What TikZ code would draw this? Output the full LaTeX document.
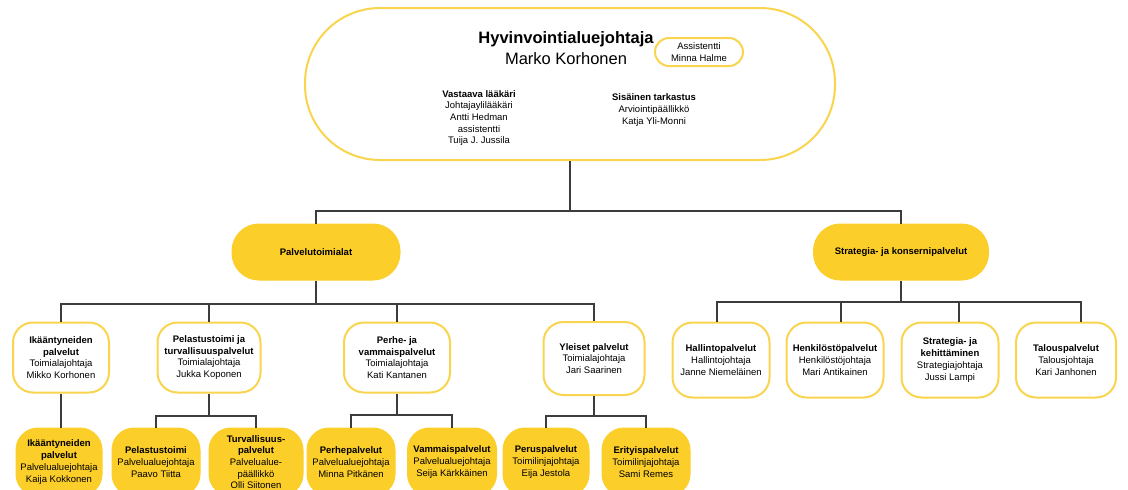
\documentclass[tikz,border=0pt]{standalone}
\usepackage{fontspec}
\setmainfont{Liberation Sans}
\definecolor{keltainen}{RGB}{252,206,42}
\definecolor{reuna}{RGB}{249,212,78}
\definecolor{viiva}{RGB}{60,60,60}
\newcommand{\pieni}{\fontsize{9.5}{11.7}\selectfont}

\begin{document}
\begin{tikzpicture}[x=1pt,y=-1pt]
        \useasboundingbox (0,0) rectangle (1128,490);
        % johtaja
        \begin{scope}[every node/.style={draw=reuna, line width=2pt, fill=white}]
            \node[minimum width=530pt, minimum height=152pt, rounded corners=75pt] (HJ) at (570,84) {};
            \node[minimum width=88pt, minimum height=28pt, rounded corners=14pt, align=center, font=\pieni] (AS) at (699,52) {Assistentti\\Minna Halme};
        \end{scope}
        \begin{scope}[every node/.style={align=center, font=\pieni}]
            \node[font=\bfseries\fontsize{16.5}{19}\selectfont] (HJt) at (566,39) {Hyvinvointialuejohtaja};
            \node[font=\fontsize{16.5}{19}\selectfont] (HJn) at (566,59) {Marko Korhonen};
            \node (VL) at (479,118) {\textbf{Vastaava lääkäri}\\Johtajaylilääkäri\\Antti Hedman\\assistentti\\Tuija J. Jussila};
            \node (SI) at (654,110) {\textbf{Sisäinen tarkastus}\\Arviointipäällikkö\\Katja Yli-Monni};
        \end{scope}
        % palvelutoimialat / konsernipalvelut
        \begin{scope}[every node/.style={fill=keltainen, draw=keltainen, line width=1pt, minimum height=56pt, rounded corners=27pt, font=\pieni\bfseries}]
            \node[minimum width=168pt] (PT) at (316,252) {Palvelutoimialat};
            \node[minimum width=175pt] (SK) at (901,252) {Strategia- ja konsernipalvelut};
        \end{scope}
        % toimialat
        \begin{scope}[every node/.style={draw=reuna, line width=2pt, fill=white, rounded corners=20pt, minimum height=70pt, align=center, font=\pieni}]
            \node[minimum width=96pt] (IK) at (61,357.5) {\textbf{Ikääntyneiden}\\\textbf{palvelut}\\Toimialajohtaja\\Mikko Korhonen};
            \node[minimum width=103pt] (PE) at (209,357.5) {\textbf{Pelastustoimi ja}\\\textbf{turvallisuuspalvelut}\\Toimialajohtaja\\Jukka Koponen};
            \node[minimum width=106pt] (PV) at (397,357.5) {\textbf{Perhe- ja}\\\textbf{vammaispalvelut}\\Toimialajohtaja\\Kati Kantanen};
            \node[minimum width=101pt, minimum height=73pt] (YL) at (594,358.5) {\textbf{Yleiset palvelut}\\Toimialajohtaja\\Jari Saarinen};
        \end{scope}
        \begin{scope}[every node/.style={draw=reuna, line width=2pt, fill=white, rounded corners=20pt, minimum height=75pt, align=center, font=\pieni}]
            \node[minimum width=97pt] (HA) at (721,360) {\textbf{Hallintopalvelut}\\Hallintojohtaja\\Janne Niemeläinen};
            \node[minimum width=97pt] (HE) at (835,360) {\textbf{Henkilöstöpalvelut}\\Henkilöstöjohtaja\\Mari Antikainen};
            \node[minimum width=97pt] (ST) at (950,360) {\textbf{Strategia- ja}\\\textbf{kehittäminen}\\Strategiajohtaja\\Jussi Lampi};
            \node[minimum width=100pt] (TA) at (1066,360) {\textbf{Talouspalvelut}\\Talousjohtaja\\Kari Janhonen};
        \end{scope}
        % palvelualueet
        \begin{scope}[every node/.style={fill=keltainen, draw=keltainen, line width=1pt, rounded corners=22pt, minimum height=68pt, align=center, font=\pieni}]
            \node[minimum width=86pt] (IKy) at (59,462) {\textbf{Ikääntyneiden}\\\textbf{palvelut}\\Palvelualuejohtaja\\Kaija Kokkonen};
            \node[minimum width=88pt] (PEy) at (156,462) {\textbf{Pelastustoimi}\\Palvelualuejohtaja\\Paavo Tiitta};
            \node[minimum width=94pt] (TU) at (256,462) {\textbf{Turvallisuus-}\\\textbf{palvelut}\\Palvelualue-\\päällikkö\\Olli Siitonen};
            \node[minimum width=88pt] (PVy) at (351,462) {\textbf{Perhepalvelut}\\Palvelualuejohtaja\\Minna Pitkänen};
            \node[minimum width=89pt] (VA) at (452,462) {\textbf{Vammaispalvelut}\\Palvelualuejohtaja\\Seija Kärkkäinen};
            \node[minimum width=86pt] (PU) at (546,462) {\textbf{Peruspalvelut}\\Toimilinjajohtaja\\Eija Jestola};
            \node[minimum width=88pt] (ER) at (646,462) {\textbf{Erityispalvelut}\\Toimilinjajohtaja\\Sami Remes};
        \end{scope}
        % liitokset
        \coordinate (j0) at (570,211);
        \coordinate (j1) at (316,304);
        \coordinate (j2) at (901,302);
        \coordinate (j3) at (209,416);
        \coordinate (j4) at (397,415);
        \coordinate (j5) at (594,416);
        \begin{scope}[draw=viiva, line width=1.2pt]
            \draw (HJ) -- (j0);
            \draw (j0) -| (PT);
            \draw (j0) -| (SK);
            \draw (PT) -- (j1);
            \draw (j1) -| (IK);
            \draw (j1) -| (PE);
            \draw (j1) -| (PV);
            \draw (j1) -| (YL);
            \draw (SK) -- (j2);
            \draw (j2) -| ([xshift=-4pt]HA.north);
            \draw (j2) -| ([xshift=6pt]HE.north);
            \draw (j2) -| ([xshift=9pt]ST.north);
            \draw (j2) -| ([xshift=15pt]TA.north);
            \draw (IK) -- (IKy.north -| IK.south);
        %    \draw (IK) -- (IKy);
            \draw (PE) -- (j3);
            \draw (j3) -| (PEy);
            \draw (j3) -| (TU);
            \draw (PV) -- (j4);
            \draw (j4) -| (PVy);
            \draw (j4) -| (VA);
            \draw (YL) -- (j5);
            \draw (j5) -| (PU);
            \draw (j5) -| (ER);
        \end{scope}
    \end{tikzpicture}
\end{document}
